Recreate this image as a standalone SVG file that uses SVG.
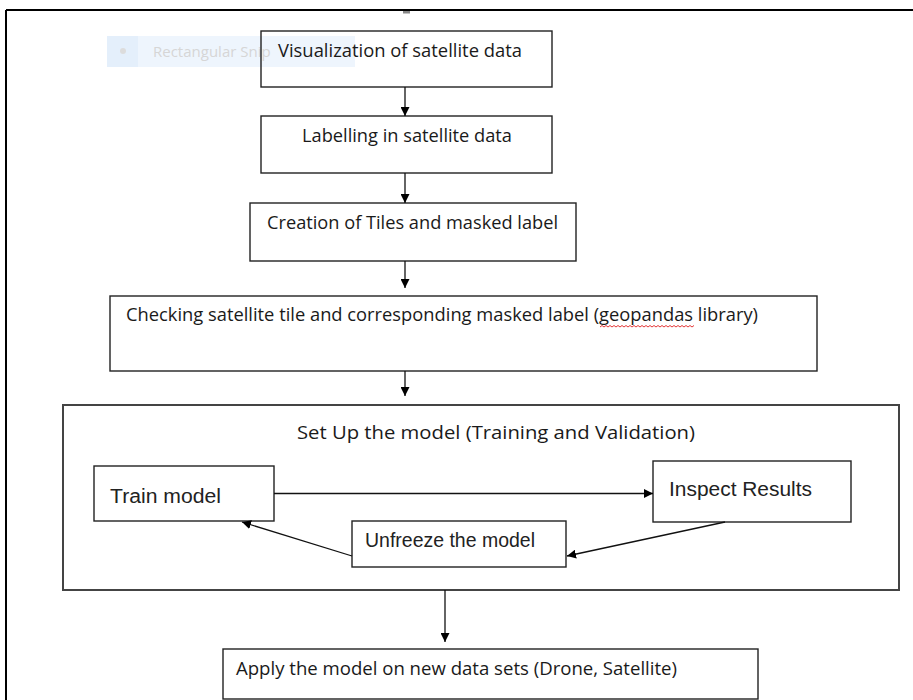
<svg xmlns="http://www.w3.org/2000/svg" width="913" height="700" viewBox="0 0 913 700">
<defs>
<marker id="ah" viewBox="0 0 10 10" refX="10" refY="5" markerWidth="9" markerHeight="9" markerUnits="userSpaceOnUse" orient="auto">
<path d="M0,0 L10,5 L0,10 z" fill="#000"/>
</marker>
<style>
.box{fill:none;stroke:#222;stroke-width:1.4}
.outer{fill:none;stroke:#444;stroke-width:2}
.c{fill:none;stroke:#111;stroke-width:1.3;marker-end:url(#ah)}
.t{font-family:"Open Sans","Noto Sans",sans-serif;font-size:18px;fill:#1a1a1a}
.a{font-family:"Liberation Sans",Arial,sans-serif;font-size:20px;fill:#222}
</style>
</defs>
<rect width="913" height="700" fill="#fff"/>
<g id="frame">
<path d="M6,10 H913 M6,10 V700" fill="none" stroke="#000" stroke-width="2"/>
<rect x="403" y="11" width="7" height="2.5" fill="#888"/>
</g>
<g id="snip-overlay">
<rect x="107" y="36" width="248" height="31" fill="#eef5fd"/>
<rect x="107" y="36" width="31" height="31" fill="#e4effb"/>
<circle cx="123" cy="51" r="3" fill="#dcdcdc"/>
<text x="153" y="57" font-family="Open Sans,sans-serif" font-size="15" fill="#d6d6d6">Rectangular Snip</text>
</g>
<g id="n1">
<rect class="box" x="261" y="31" width="291" height="56"/>
<text class="t" x="278" y="57" textLength="244" lengthAdjust="spacingAndGlyphs">Visualization of satellite data</text>
</g>
<g id="n2">
<rect class="box" x="261" y="116" width="291" height="57"/>
<text class="t" x="302" y="142" textLength="210" lengthAdjust="spacingAndGlyphs">Labelling in satellite data</text>
</g>
<g id="n3">
<rect class="box" x="250" y="203" width="326" height="58"/>
<text class="t" x="267" y="229" textLength="291" lengthAdjust="spacingAndGlyphs">Creation of Tiles and masked label</text>
</g>
<g id="n4">
<rect class="box" x="110" y="296" width="707" height="75"/>
<text class="t" x="126" y="321" textLength="632" lengthAdjust="spacingAndGlyphs">Checking satellite tile and corresponding masked label (geopandas library)</text>
<path d="M600,327 l2,-1.5 l2,1.5 l2,-1.5 l2,1.5 l2,-1.5 l2,1.5 l2,-1.5 l2,1.5 l2,-1.5 l2,1.5 l2,-1.5 l2,1.5 l2,-1.5 l2,1.5 l2,-1.5 l2,1.5 l2,-1.5 l2,1.5 l2,-1.5 l2,1.5 l2,-1.5 l2,1.5 l2,-1.5 l2,1.5 l2,-1.5 l2,1.5 l2,-1.5 l2,1.5 l2,-1.5 l2,1.5 l2,-1.5 l2,1.5 l2,-1.5 l2,1.5 l2,-1.5 l2,1.5 l2,-1.5 l2,1.5 l2,-1.5 l2,1.5 l2,-1.5 l2,1.5 l2,-1.5 l2,1.5 l2,-1.5 l2,1.5 l2,-1.5" fill="none" stroke="#e02020" stroke-width="0.9"/>
</g>
<g id="n5">
<rect class="outer" x="63" y="405" width="836" height="185"/>
<text class="t" x="297" y="439" textLength="398" lengthAdjust="spacingAndGlyphs">Set Up the model (Training and Validation)</text>
</g>
<g id="train">
<rect class="box" x="94" y="466" width="180" height="55"/>
<text class="a" x="110" y="503" textLength="111" lengthAdjust="spacingAndGlyphs">Train model</text>
</g>
<g id="inspect">
<rect class="box" x="653" y="461" width="198" height="61"/>
<text class="a" x="669" y="496" textLength="143" lengthAdjust="spacingAndGlyphs">Inspect Results</text>
</g>
<g id="unfreeze">
<rect class="box" x="352" y="521" width="214" height="46"/>
<text class="a" x="365" y="547" font-size="18" textLength="170" lengthAdjust="spacingAndGlyphs">Unfreeze the model</text>
</g>
<g id="n6">
<rect class="box" x="223" y="649" width="535" height="50"/>
<text class="t" x="236" y="675" textLength="441" lengthAdjust="spacingAndGlyphs">Apply the model on new data sets (Drone, Satellite)</text>
</g>
<g id="connectors">
<path class="c" d="M405,87 V116"/>
<path class="c" d="M405,173 V203"/>
<path class="c" d="M405,261 V288"/>
<path class="c" d="M405,371 V396"/>
<path class="c" d="M274,493.5 H653"/>
<path class="c" d="M725,522 L567,556"/>
<path class="c" d="M352,556 L242,522"/>
<path class="c" d="M445,590 V642"/>
</g>
</svg>
